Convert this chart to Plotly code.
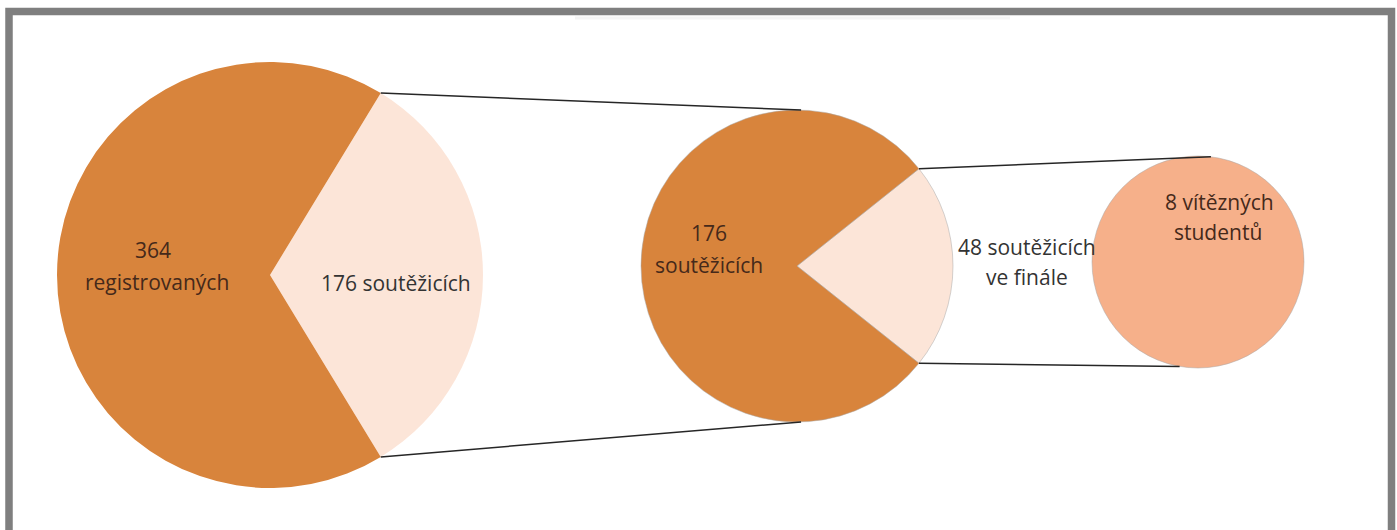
import math
import plotly.graph_objects as go

# ---- data ----
pie1_labels = ["176 soutěžicích", "364 registrovaných"]
pie1_values = [176, 364]
pie2_labels = ["48 soutěžicích ve finále", "176 soutěžicích"]
pie2_values = [48, 176]
pie3_labels = ["8 vítězných studentů"]
pie3_values = [8]

W, H = 1397, 530
DARK = "#D8843C"
LIGHT = "#FCE5D8"
PEACH = "#F6B08A"

def X(px):
    return px / W

def Y(py):
    return 1 - py / H

def dom(cx, cy, r):
    return dict(x=[X(cx - r), X(cx + r)], y=[Y(cy + r), Y(cy - r)])

# geometry (pixels)
c1, r1 = (270, 275), 213
c2, r2 = (797, 266), 156
c3, r3 = (1198, 262), 106

def half_angle(values):
    return values[0] / sum(values) * 360 / 2

h1 = half_angle(pie1_values)
h2 = half_angle(pie2_values)

fig = go.Figure()
fig.add_trace(go.Pie(
    labels=pie1_labels, values=pie1_values, sort=False, direction="clockwise",
    rotation=90 - h1, domain=dom(*c1, r1), textinfo="none", hoverinfo="label+value",
    marker=dict(colors=[LIGHT, DARK], line=dict(width=0)), showlegend=False,
))
fig.add_trace(go.Pie(
    labels=pie2_labels, values=pie2_values, sort=False, direction="clockwise",
    rotation=90 - h2, domain=dom(*c2, r2), textinfo="none", hoverinfo="label+value",
    marker=dict(colors=[LIGHT, DARK], line=dict(width=1, color="rgba(170,170,170,0.5)")),
    showlegend=False,
))
fig.add_trace(go.Pie(
    labels=pie3_labels, values=pie3_values, sort=False, domain=dom(*c3, r3),
    textinfo="none", hoverinfo="label+value",
    marker=dict(colors=[PEACH], line=dict(width=1, color="rgba(170,170,170,0.5)")),
    showlegend=False,
))

def on_circle(c, r, deg):
    a = math.radians(deg)
    return (c[0] + r * math.cos(a), c[1] - r * math.sin(a))

shapes = []
# frame
shapes.append(dict(type="rect", xref="paper", yref="paper",
                   x0=X(9), x1=X(1391.5), y0=Y(560), y1=Y(11.5),
                   line=dict(color="#7F7F7F", width=7.5), layer="above"))
shapes.append(dict(type="line", xref="paper", yref="paper",
                   x0=X(575), x1=X(1010), y0=Y(18), y1=Y(18),
                   line=dict(color="#F4F4F4", width=3), layer="below"))

connectors = [
    (on_circle(c1, r1, h1), on_circle(c2, r2, 88.5)),
    (on_circle(c1, r1, -h1), on_circle(c2, r2, -88.5)),
    (on_circle(c2, r2, h2), on_circle(c3, r3, 83)),
    (on_circle(c2, r2, -h2), on_circle(c3, r3, -100)),
]
for (p0, p1) in connectors:
    shapes.append(dict(type="line", xref="paper", yref="paper",
                       x0=X(p0[0]), y0=Y(p0[1]), x1=X(p1[0]), y1=Y(p1[1]),
                       line=dict(color="#262626", width=1.5)))

FONT = "Open Sans"
TXT_DARK = "#45291A"
TXT_GRAY = "#333333"

def lines_of(label, n_first):
    words = label.split(" ")
    return [" ".join(words[:n_first]), " ".join(words[n_first:])] if n_first < len(words) else [label]

annots = [
    (153, 250, lines_of(pie1_labels[1], 1)[0], TXT_DARK),
    (157, 282, lines_of(pie1_labels[1], 1)[1], TXT_DARK),
    (396, 283, pie1_labels[0], TXT_GRAY),
    (709, 233, lines_of(pie2_labels[1], 1)[0], TXT_DARK),
    (709, 265, lines_of(pie2_labels[1], 1)[1], TXT_DARK),
    (1027, 247, lines_of(pie2_labels[0], 2)[0], TXT_GRAY),
    (1027, 277, lines_of(pie2_labels[0], 2)[1], TXT_GRAY),
    (1219, 202, lines_of(pie3_labels[0], 2)[0], TXT_DARK),
    (1218, 232, lines_of(pie3_labels[0], 2)[1], TXT_DARK),
]
annotations = [dict(x=X(x), y=Y(y), xref="paper", yref="paper", text=t,
                    showarrow=False, xanchor="center", yanchor="middle",
                    font=dict(family=FONT, size=21, color=col))
               for x, y, t, col in annots]

fig.update_layout(
    width=W, height=H, margin=dict(l=0, r=0, t=0, b=0),
    paper_bgcolor="white", plot_bgcolor="white",
    shapes=shapes, annotations=annotations,
)
fig.write_html("out.html", config={"displayModeBar": False},
               post_script="document.body.style.margin='0';document.body.style.overflow='hidden';")
